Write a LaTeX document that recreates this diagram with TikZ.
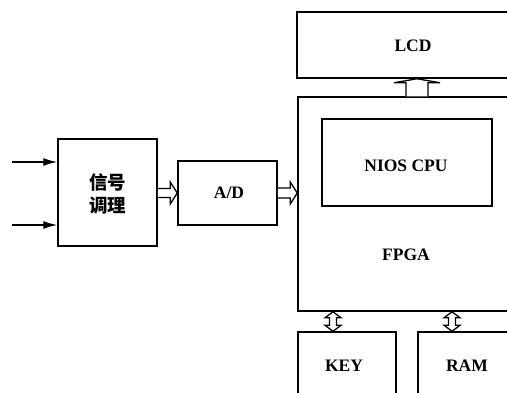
\documentclass[tikz,border=0pt]{standalone}
\usepackage{fontspec}
\setmainfont{Liberation Serif}
\newfontfamily\cjk{Noto Sans CJK SC}
\usetikzlibrary{arrows.meta,calc}
\begin{document}
\begin{tikzpicture}[x=1pt,y=-1pt,
  box/.style={draw, line width=1.5pt, inner sep=0pt},
  lbl/.style={font=\fontsize{17.5}{19}\selectfont\bfseries, inner sep=0pt},
  hol/.style={draw, line width=1.3pt, fill=white, line join=miter},
  inarrow/.style={line width=1.3pt, -{Latex[length=14pt,width=8pt]}}]
\useasboundingbox (0,0) rectangle (507,392);
\clip (0,0) rectangle (507,392);
% boxes
\node[box, minimum width=99pt, minimum height=107pt] (sig) at (107.5,192.5) {};
\node[font=\cjk\bfseries\fontsize{18.5}{23}\selectfont, align=center, inner sep=0pt] (sigt) at (107.5,194) {信号\\调理};
\node[box, minimum width=99pt, minimum height=64pt] (ad) at (227.5,193) {};
\node[lbl] (adt) at (229,193) {A/D};
\node[box, minimum width=262pt, minimum height=214pt] (fpga) at (429,204) {};
\node[lbl] (fpgat) at (406,255) {FPGA};
\node[box, minimum width=170pt, minimum height=87pt] (nios) at (407,162.5) {};
\node[lbl] (niost) at (406,166) {NIOS CPU};
\node[box, minimum width=263pt, minimum height=66pt] (lcd) at (428.5,45) {};
\node[lbl] (lcdt) at (413,46) {LCD};
\node[box, minimum width=98pt, minimum height=90pt] (key) at (347,377) {};
\node[lbl] (keyt) at (344,366) {KEY};
\node[box, minimum width=142pt, minimum height=90pt] (ram) at (489,377) {};
\node[lbl] (ramt) at (467,366) {RAM};
% input arrows
\coordinate (in1) at (12,162);
\coordinate (in2) at (12,225);
\draw[inarrow] (in1) -- (sig.west |- in1);
\draw[inarrow] (in2) -- (sig.west |- in2);
% hollow horizontal arrows
\draw[hol] let \p1=(sig.east), \p2=(ad.west) in
  (\x1,\y2+4.5pt) -- (\x2-7pt,\y2+4.5pt) -- (\x2-7pt,\y2+11pt) -- (\x2,\y2)
  -- (\x2-7pt,\y2-11pt) -- (\x2-7pt,\y2-4.5pt) -- (\x1,\y2-4.5pt);
\draw[hol] let \p1=(ad.east), \p2=(fpga.west |- ad.east) in
  (\x1,\y2+5pt) -- (\x2-7pt,\y2+5pt) -- (\x2-7pt,\y2+11pt) -- (\x2,\y2)
  -- (\x2-7pt,\y2-11pt) -- (\x2-7pt,\y2-5pt) -- (\x1,\y2-5pt);
% LCD bus arrow
\coordinate (lx) at (417,90);
\draw[hol] let \p1=(lx |- fpga.north), \p2=(lx |- lcd.south) in
  (\x1-11pt,\y1) -- (\x1-11pt,\y2-4pt) -- (\x1-23pt,\y2-4pt) -- (\x1,\y2)
  -- (\x1+23pt,\y2-4pt) -- (\x1+11pt,\y2-4pt) -- (\x1+11pt,\y1);
% double arrows to KEY and RAM
\coordinate (kx) at (333,320);
\coordinate (rx) at (452,320);
\foreach \cc/\bx in {kx/key, rx/ram}{
  \draw[hol] let \p1=(\cc |- fpga.south), \p2=(\cc |- \bx.north) in
    (\x1,\y1) -- (\x1+8pt,\y1-6pt) -- (\x1+3.5pt,\y1-6pt) -- (\x1+3.5pt,\y2+6pt)
    -- (\x1+8pt,\y2+6pt) -- (\x1,\y2) -- (\x1-8pt,\y2+6pt) -- (\x1-3.5pt,\y2+6pt)
    -- (\x1-3.5pt,\y1-6pt) -- (\x1-8pt,\y1-6pt) -- cycle;
}
\end{tikzpicture}
\end{document}
